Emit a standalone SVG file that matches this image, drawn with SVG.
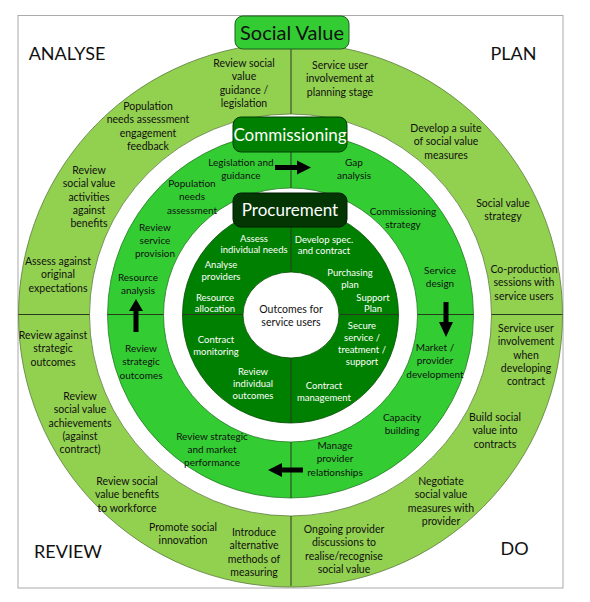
<svg xmlns="http://www.w3.org/2000/svg" width="590" height="602" viewBox="0 0 590 602">
<style>
.t{font-family:Lato,"Liberation Sans",sans-serif;font-size:10.5px;fill:#111;text-anchor:middle}
.m{font-family:Lato,"Liberation Sans",sans-serif;font-size:10px;fill:#111;text-anchor:middle}
.w{font-family:Lato,"Liberation Sans",sans-serif;font-size:9.5px;fill:#fff;text-anchor:middle}
.c{font-family:Lato,"Liberation Sans",sans-serif;font-size:18px;fill:#111;text-anchor:middle}
.ln{stroke:#2a3a20;stroke-width:1;fill:none}
.ar{fill:#000}
</style>
<rect x="18" y="15.5" width="545" height="572.5" fill="#fff" stroke="#aaa" stroke-width="1"/>
<g id="rings">
<circle cx="290.5" cy="315" r="272" fill="#92d050" stroke="#5a7a3a" stroke-width="0.8"/>
<circle cx="290.5" cy="315" r="201" fill="#fff" stroke="#5a7a3a" stroke-width="0.8"/>
<circle cx="290.5" cy="315" r="183" fill="#33cc33" stroke="#2a7a2a" stroke-width="0.8"/>
<circle cx="290.5" cy="315" r="127" fill="#fff" stroke="#2a7a2a" stroke-width="0.8"/>
<circle cx="290.5" cy="315" r="108" fill="#008000" stroke="#004d00" stroke-width="0.8"/>
<ellipse cx="291" cy="315" rx="48" ry="43" fill="#fff" stroke="#004d00" stroke-width="0.8"/>
</g>
<g id="connectors">
<path class="ln" d="M291 49V114M291 132V188M291 207V272M291 358V423M291 442V498M291 516V586"/>
<path class="ln" d="M18.5 314.5H89.5M107.5 314.5H163.5M182.5 314.5H243M339 314.5H398.5M417.5 314.5H473.5M491.5 314.5H562.5"/>
<path class="ar" d="M275 165H297V160.5L311 167.5L297 174.5V170H275Z"/>
<path class="ar" d="M443.5 302V322H439L446 337L453 322H448.5V302Z"/>
<path class="ar" d="M303 467.5H282V463L268 470L282 477V472.5H303Z"/>
<path class="ar" d="M133.5 332V311H129L136 299L143 311H138.5V332Z"/>
</g>
<g id="social-value">
<rect x="235" y="16" width="114" height="33" rx="8" fill="#33cc33" stroke="#1f5f1f" stroke-width="1"/>
<text x="292" y="39.5" style="font-family:Lato,'Liberation Sans',sans-serif;font-size:20px;fill:#111;text-anchor:middle">Social Value</text>
</g>
<g id="commissioning">
<rect x="233" y="117" width="114" height="35" rx="8" fill="#008000" stroke="#003d00" stroke-width="1"/>
<text x="290" y="140.5" style="font-family:Lato,'Liberation Sans',sans-serif;font-size:17px;fill:#fff;text-anchor:middle">Commissioning</text>
</g>
<g id="procurement">
<rect x="233" y="193" width="114" height="34" rx="8" fill="#033603" stroke="#001a00" stroke-width="1"/>
<text x="290" y="216" style="font-family:Lato,'Liberation Sans',sans-serif;font-size:17px;fill:#fff;text-anchor:middle">Procurement</text>
</g>
<g id="corners">
<text class="c" x="67" y="59.5">ANALYSE</text>
<text class="c" x="513.5" y="59.5">PLAN</text>
<text class="c" x="68" y="557.5">REVIEW</text>
<text class="c" x="514.5" y="554.5">DO</text>
</g>
<g id="outer-labels">
<text class="t" x="244" y="67"><tspan x="244">Review social</tspan><tspan x="244" dy="13.3">value</tspan><tspan x="244" dy="13.3">guidance /</tspan><tspan x="244" dy="13.3">legislation</tspan></text>
<text class="t" x="340" y="69"><tspan x="340">Service user</tspan><tspan x="340" dy="13.3">involvement at</tspan><tspan x="340" dy="13.3">planning stage</tspan></text>
<text class="t" x="148" y="110"><tspan x="148">Population</tspan><tspan x="148" dy="13.3">needs assessment</tspan><tspan x="148" dy="13.3">engagement</tspan><tspan x="148" dy="13.3">feedback</tspan></text>
<text class="t" x="89" y="174"><tspan x="89">Review</tspan><tspan x="89" dy="13.3">social value</tspan><tspan x="89" dy="13.3">activities</tspan><tspan x="89" dy="13.3">against</tspan><tspan x="89" dy="13.3">benefits</tspan></text>
<text class="t" x="58" y="265"><tspan x="58">Assess against</tspan><tspan x="58" dy="13.3">original</tspan><tspan x="58" dy="13.3">expectations</tspan></text>
<text class="t" x="53" y="339"><tspan x="53">Review against</tspan><tspan x="53" dy="13.3">strategic</tspan><tspan x="53" dy="13.3">outcomes</tspan></text>
<text class="t" x="80" y="400"><tspan x="80">Review</tspan><tspan x="80" dy="13.3">social value</tspan><tspan x="80" dy="13.3">achievements</tspan><tspan x="80" dy="13.3">(against</tspan><tspan x="80" dy="13.3">contract)</tspan></text>
<text class="t" x="127" y="485"><tspan x="127">Review social</tspan><tspan x="127" dy="13.3">value benefits</tspan><tspan x="127" dy="13.3">to workforce</tspan></text>
<text class="t" x="183" y="531"><tspan x="183">Promote social</tspan><tspan x="183" dy="13.3">innovation</tspan></text>
<text class="t" x="254" y="536"><tspan x="254">Introduce</tspan><tspan x="254" dy="13.3">alternative</tspan><tspan x="254" dy="13.3">methods of</tspan><tspan x="254" dy="13.3">measuring</tspan></text>
<text class="t" x="344" y="533"><tspan x="344">Ongoing provider</tspan><tspan x="344" dy="13.3">discussions to</tspan><tspan x="344" dy="13.3">realise/recognise</tspan><tspan x="344" dy="13.3">social value</tspan></text>
<text class="t" x="441" y="485"><tspan x="441">Negotiate</tspan><tspan x="441" dy="13.3">social value</tspan><tspan x="441" dy="13.3">measures with</tspan><tspan x="441" dy="13.3">provider</tspan></text>
<text class="t" x="495" y="421"><tspan x="495">Build social</tspan><tspan x="495" dy="13.3">value into</tspan><tspan x="495" dy="13.3">contracts</tspan></text>
<text class="t" x="526" y="332"><tspan x="526">Service user</tspan><tspan x="526" dy="13.3">involvement</tspan><tspan x="526" dy="13.3">when</tspan><tspan x="526" dy="13.3">developing</tspan><tspan x="526" dy="13.3">contract</tspan></text>
<text class="t" x="524" y="273"><tspan x="524">Co-production</tspan><tspan x="524" dy="13.3">sessions with</tspan><tspan x="524" dy="13.3">service users</tspan></text>
<text class="t" x="503" y="207"><tspan x="503">Social value</tspan><tspan x="503" dy="13.3">strategy</tspan></text>
<text class="t" x="446" y="132"><tspan x="446">Develop a suite</tspan><tspan x="446" dy="13.3">of social value</tspan><tspan x="446" dy="13.3">measures</tspan></text>
</g>
<g id="middle-labels">
<text class="m" x="241" y="166"><tspan x="241">Legislation and</tspan><tspan x="241" dy="13">guidance</tspan></text>
<text class="m" x="354" y="166"><tspan x="354">Gap</tspan><tspan x="354" dy="13">analysis</tspan></text>
<text class="m" x="192" y="187"><tspan x="192">Population</tspan><tspan x="192" dy="13.3">needs</tspan><tspan x="192" dy="13.3">assessment</tspan></text>
<text class="m" x="155" y="231"><tspan x="155">Review</tspan><tspan x="155" dy="13">service</tspan><tspan x="155" dy="13">provision</tspan></text>
<text class="m" x="138" y="281"><tspan x="138">Resource</tspan><tspan x="138" dy="13">analysis</tspan></text>
<text class="m" x="141" y="352"><tspan x="141">Review</tspan><tspan x="141" dy="13.3">strategic</tspan><tspan x="141" dy="13.3">outcomes</tspan></text>
<text class="m" x="212" y="440"><tspan x="212">Review strategic</tspan><tspan x="212" dy="13">and market</tspan><tspan x="212" dy="13">performance</tspan></text>
<text class="m" x="335" y="449"><tspan x="335">Manage</tspan><tspan x="335" dy="13.3">provider</tspan><tspan x="335" dy="13.3">relationships</tspan></text>
<text class="m" x="402" y="421"><tspan x="402">Capacity</tspan><tspan x="402" dy="13">building</tspan></text>
<text class="m" x="435" y="351"><tspan x="435">Market /</tspan><tspan x="435" dy="13.3">provider</tspan><tspan x="435" dy="13.3">development</tspan></text>
<text class="m" x="440" y="274"><tspan x="440">Service</tspan><tspan x="440" dy="13">design</tspan></text>
<text class="m" x="403" y="215"><tspan x="403">Commissioning</tspan><tspan x="403" dy="13">strategy</tspan></text>
</g>
<g id="inner-labels">
<text class="w" x="254" y="241.5"><tspan x="254">Assess</tspan><tspan x="254" dy="11.5">individual needs</tspan></text>
<text class="w" x="221" y="267.5"><tspan x="221">Analyse</tspan><tspan x="221" dy="12">providers</tspan></text>
<text class="w" x="215" y="300.5"><tspan x="215">Resource</tspan><tspan x="215" dy="11.5">allocation</tspan></text>
<text class="w" x="216" y="342.5"><tspan x="216">Contract</tspan><tspan x="216" dy="12">monitoring</tspan></text>
<text class="w" x="253" y="374.5"><tspan x="253">Review</tspan><tspan x="253" dy="12">individual</tspan><tspan x="253" dy="12">outcomes</tspan></text>
<text class="w" x="324" y="242.5"><tspan x="324">Develop spec.</tspan><tspan x="324" dy="11.5">and contract</tspan></text>
<text class="w" x="350" y="275.5"><tspan x="350">Purchasing</tspan><tspan x="350" dy="12">plan</tspan></text>
<text class="w" x="373" y="300.5"><tspan x="373">Support</tspan><tspan x="373" dy="11.5">Plan</tspan></text>
<text class="w" x="362" y="328.5"><tspan x="362">Secure</tspan><tspan x="362" dy="12">service /</tspan><tspan x="362" dy="12">treatment /</tspan><tspan x="362" dy="12">support</tspan></text>
<text class="w" x="324" y="388.5"><tspan x="324">Contract</tspan><tspan x="324" dy="12">management</tspan></text>
</g>
<g id="centre">
<text class="t" x="291" y="313"><tspan x="291">Outcomes for</tspan><tspan x="291" dy="13">service users</tspan></text>
</g>
</svg>
